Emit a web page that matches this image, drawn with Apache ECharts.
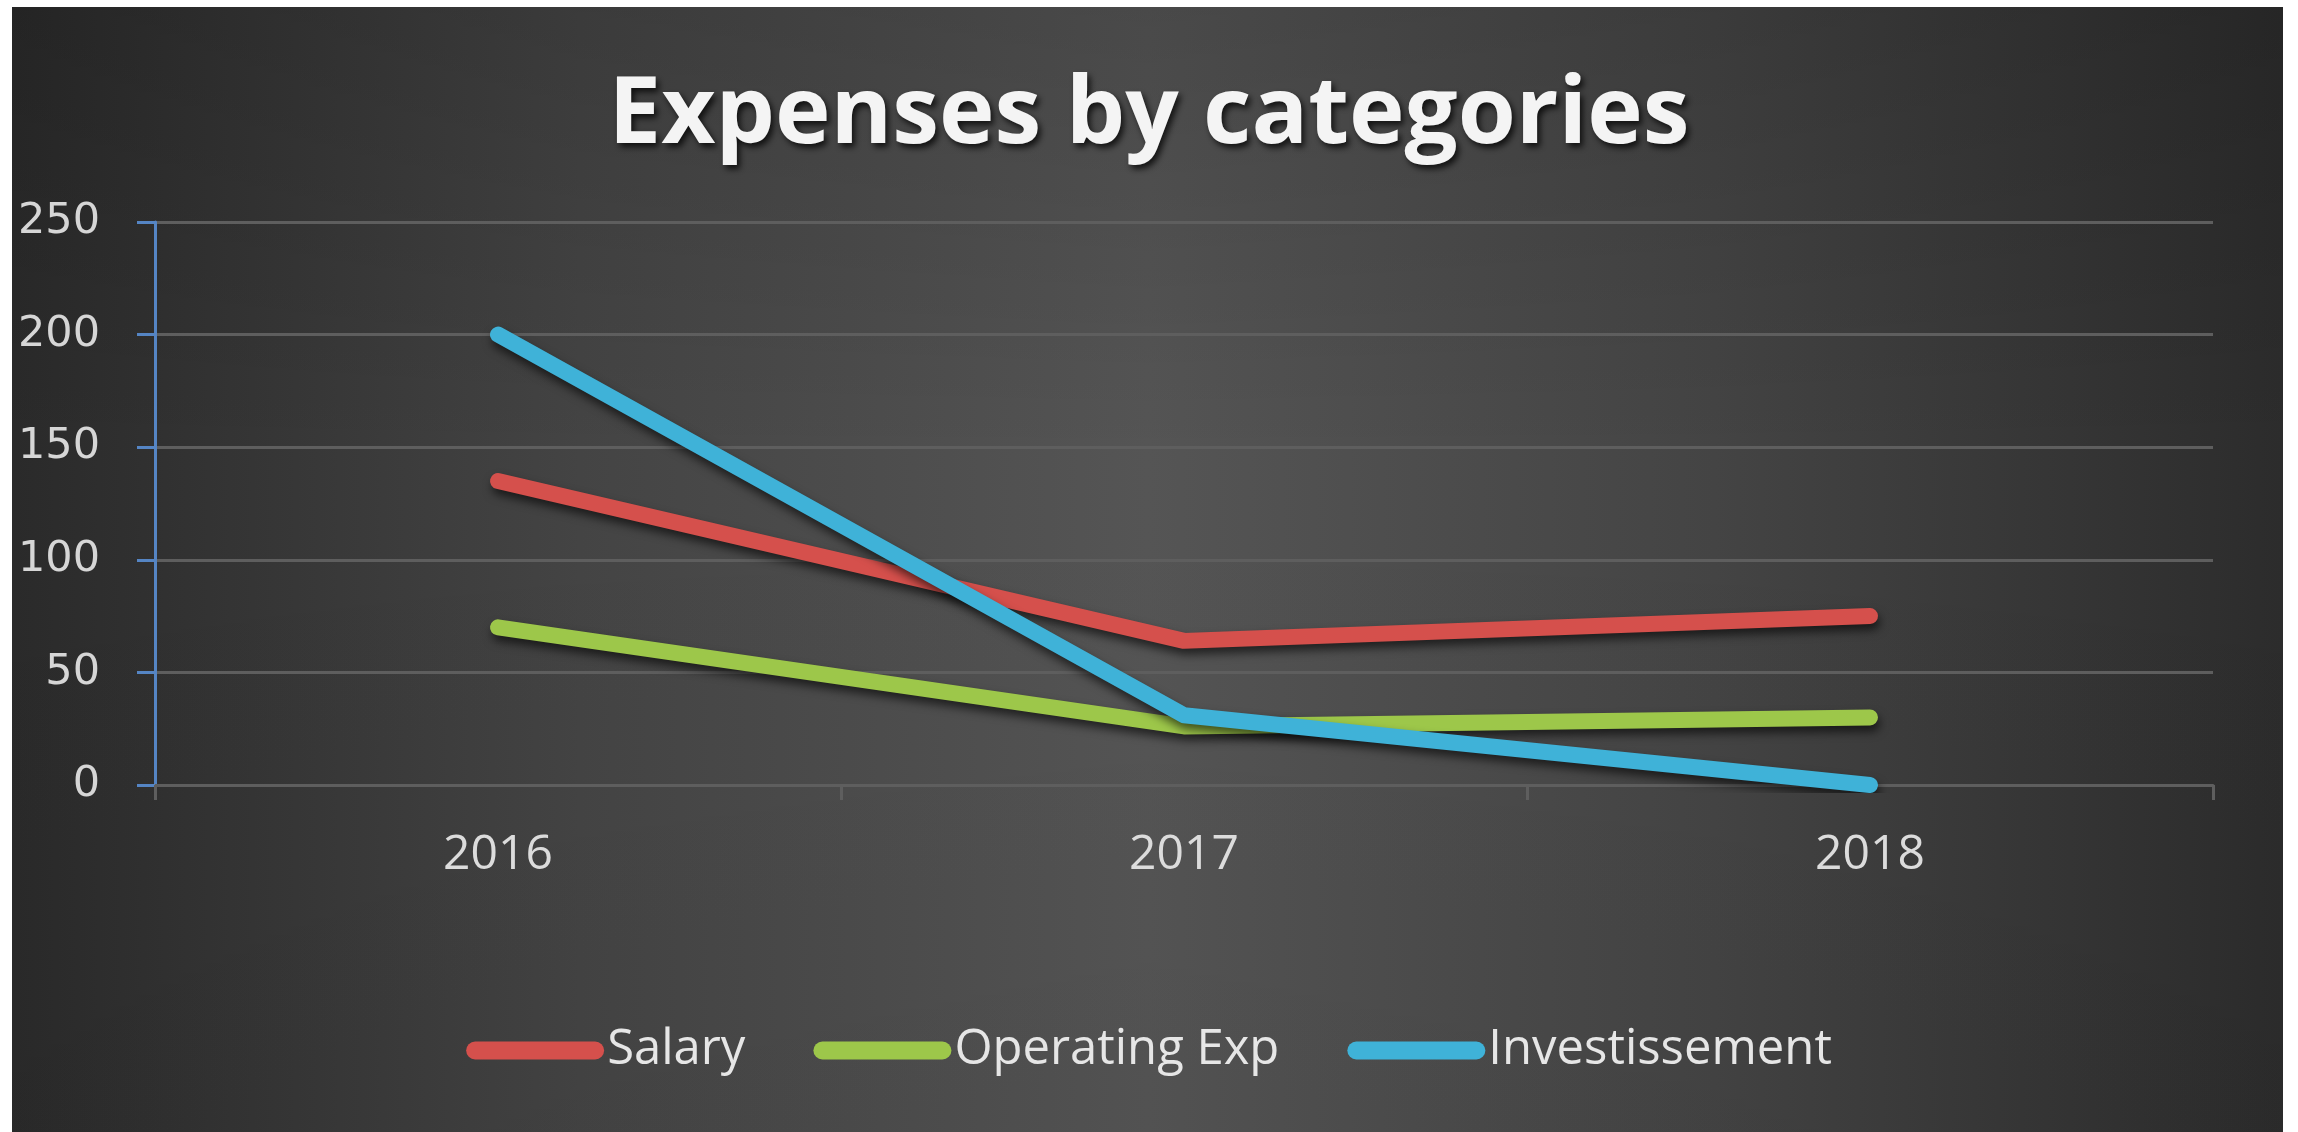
<!DOCTYPE html>
<html>
<head>
<meta charset="utf-8">
<script src="https://cdn.jsdelivr.net/npm/echarts@6/dist/echarts.min.js"></script>
<style>
html,body{margin:0;padding:0;background:#fff;}
#c{width:2298px;height:1132px;}
</style>
</head>
<body>
<div id="c"></div>
<script>
const titleText = 'Expenses by categories';
const categories = ['2016', '2017', '2018'];
const seriesNames = ['Salary', 'Operating Exp', 'Investissement'];
const salary = [135, 64, 75];
const operatingExp = [70, 26, 30];
const investissement = [200, 31, 0];
const yTicks = { min: 0, max: 250, interval: 50 };

const colors = ['#D5504C', '#9DC74A', '#3FB2D8'];
const seriesData = [salary, operatingExp, investissement];

const chart = echarts.init(document.getElementById('c'), null, { renderer: 'canvas' });

const capsule = 'path://M9,0 L129,0 A9,9 0 0 1 129,18 L9,18 A9,9 0 0 1 9,0 Z';

const option = {
  backgroundColor: '#ffffff',
  animation: false,
  graphic: [
    {
      type: 'rect', z: -20, silent: true,
      shape: { x: 12, y: 7, width: 2271, height: 1125 },
      style: {
        fill: new echarts.graphic.LinearGradient(0, 0, 1, 0, [
          { offset: 0, color: '#2a2a2a' },
          { offset: 0.25, color: '#444444' },
          { offset: 0.5, color: '#555555' },
          { offset: 0.75, color: '#444444' },
          { offset: 1, color: '#2c2c2c' }
        ])
      }
    },
    {
      type: 'rect', z: -19, silent: true,
      shape: { x: 12, y: 7, width: 2271, height: 1125 },
      style: {
        fill: new echarts.graphic.LinearGradient(0, 0, 0, 1, [
          { offset: 0, color: 'rgba(0,0,0,0.14)' },
          { offset: 0.4, color: 'rgba(0,0,0,0)' },
          { offset: 1, color: 'rgba(0,0,0,0.04)' }
        ])
      }
    }
  ],
  title: {
    text: titleText,
    left: 'center',
    top: 64,
    textStyle: {
      fontFamily: 'Open Sans',
      fontWeight: 'bold',
      fontSize: 94,
      color: '#f4f4f4',
      textShadowColor: 'rgba(0,0,0,0.75)',
      textShadowBlur: 6,
      textShadowOffsetX: 3,
      textShadowOffsetY: 4
    }
  },
  legend: {
    bottom: 1132 - 1053 - 27,
    left: 'center',
    itemWidth: 138,
    itemHeight: 18,
    itemGap: 68,
    icon: capsule,
    textStyle: {
      fontFamily: 'Open Sans',
      fontSize: 49,
      color: '#e6e6e6',
      padding: [0, 0, 0, -2]
    },
    data: seriesNames.map((n, i) => ({ name: n, itemStyle: { color: colors[i] } }))
  },
  grid: {
    left: 155,
    right: 85,
    top: 222,
    bottom: 1132 - 785,
    containLabel: false
  },
  xAxis: {
    type: 'category',
    data: categories,
    boundaryGap: true,
    axisLine: { show: true, lineStyle: { color: '#5e5e5e', width: 3 } },
    axisTick: { show: true, length: 15, lineStyle: { color: '#5e5e5e', width: 3 } },
    axisLabel: {
      margin: 46,
      fontFamily: 'Open Sans',
      fontSize: 48,
      color: '#dcdcdc'
    },
    splitLine: { show: false }
  },
  yAxis: {
    type: 'value',
    min: yTicks.min,
    max: yTicks.max,
    interval: yTicks.interval,
    axisLine: { show: true, lineStyle: { color: '#5585c4', width: 3 } },
    axisTick: { show: true, length: 18, lineStyle: { color: '#5585c4', width: 3 } },
    axisLabel: {
      margin: 55,
      fontFamily: 'DejaVu Sans',
      fontSize: 43,
      color: '#d6d6d6'
    },
    splitLine: { show: true, lineStyle: { color: '#5e5e5e', width: 3 } }
  },
  series: seriesNames.map((n, i) => ({
    name: n,
    type: 'line',
    data: seriesData[i],
    showSymbol: false,
    symbol: 'none',
    itemStyle: { color: colors[i] },
    lineStyle: {
      color: colors[i],
      width: 16,
      cap: 'round',
      join: 'round',
      shadowColor: 'rgba(0,0,0,0.6)',
      shadowBlur: 10,
      shadowOffsetX: 2,
      shadowOffsetY: 6
    },
    z: 2 + i
  }))
};

chart.setOption(option);
</script>
</body>
</html>
